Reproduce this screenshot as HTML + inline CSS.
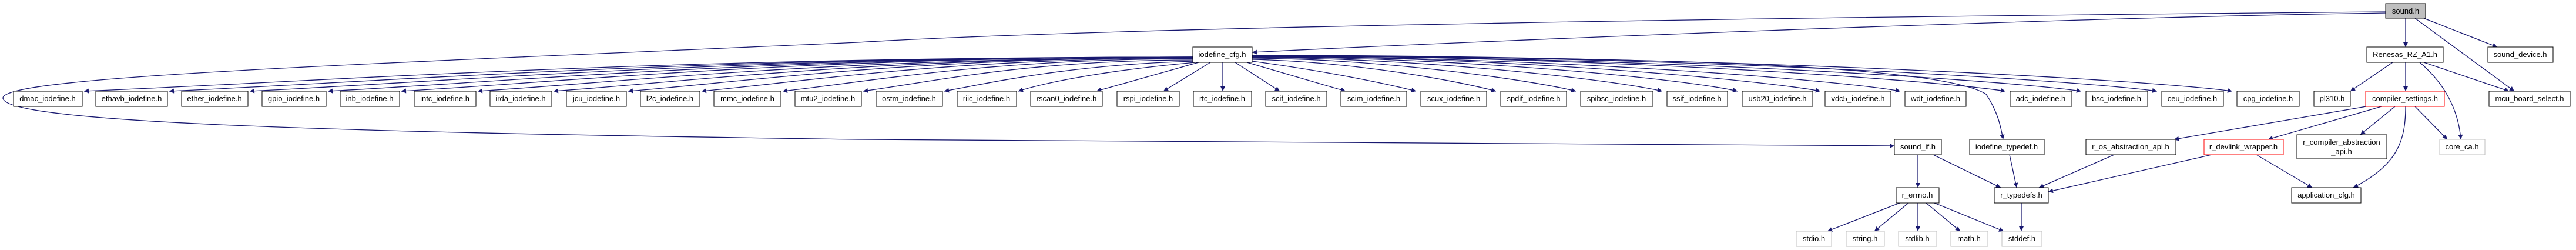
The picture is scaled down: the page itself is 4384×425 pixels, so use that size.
<!DOCTYPE html>
<html><head><meta charset="utf-8"><style>
html,body{margin:0;padding:0;background:#fff;width:4384px;height:425px;overflow:hidden}
svg{display:block}
text{font-family:"Liberation Sans",sans-serif;font-size:13px;fill:#000}
.e{fill:none;stroke:#191970;stroke-width:1.3;marker-end:url(#a)}
.n{fill:#fff;stroke:#000;stroke-width:1}
.g{fill:#fff;stroke:#bfbfbf;stroke-width:1}
.r{fill:#fff;stroke:#ff0000;stroke-width:1}
</style></head><body>
<svg width="4384" height="425" viewBox="0 0 4384 425" xmlns="http://www.w3.org/2000/svg">
<defs><marker id="a" viewBox="0 0 10 10" markerWidth="10" markerHeight="8" refX="10" refY="5" orient="auto" markerUnits="userSpaceOnUse"><path d="M0,0 L10,5 L0,10 z" fill="#191970"/></marker></defs>
<g>
<path class="e" d="M4060,20 C3500,25 2000,40 1460,72 C600,110 0,130 5,167 C10,210 600,225 1460,237 C2200,245 2900,248 3224,248"/>
<path class="e" d="M4060,22 C3500,30 2500,70 2131,89"/>
<path class="e" d="M2030,97 C1086,97 520,140 143,155"/>
<path class="e" d="M2030,97 C1159,97 637,140 288,155"/>
<path class="e" d="M2030,97 C1227,97 746,140 425,155"/>
<path class="e" d="M2030,97 C1294,97 852,140 558,155"/>
<path class="e" d="M2030,97 C1356,97 952,140 683,155"/>
<path class="e" d="M2030,98 C1421,98 1056,140 813,155"/>
<path class="e" d="M2030,98 C1486,98 1160,140 942,155"/>
<path class="e" d="M2030,98 C1549,98 1261,140 1069,155"/>
<path class="e" d="M2030,99 C1612,99 1361,140 1194,155"/>
<path class="e" d="M2030,100 C1681,100 1472,140 1332,155"/>
<path class="e" d="M2030,102 C1750,102 1581,140 1469,155"/>
<path class="e" d="M2032,104 C1820,110 1690,140 1607,155"/>
<path class="e" d="M2034,106 C1880,120 1780,140 1733,155"/>
<path class="e" d="M2040,106 L1866,155"/>
<path class="e" d="M2060,106 L1980,155"/>
<path class="e" d="M2081,106 L2081,155"/>
<path class="e" d="M2102,106 L2178,155"/>
<path class="e" d="M2122,106 L2290,155"/>
<path class="e" d="M2131,104 C2250,120 2350,140 2410,155"/>
<path class="e" d="M2131,101 C2300,105 2470,135 2546,155"/>
<path class="e" d="M2131,99 C2350,100 2600,135 2682,155"/>
<path class="e" d="M2131,98 C2420,98 2740,135 2829,155"/>
<path class="e" d="M2131,97 C2500,97 2870,135 2957,155"/>
<path class="e" d="M2131,96 C2560,96 2990,135 3098,155"/>
<path class="e" d="M2131,96 C2630,96 3120,135 3234,155"/>
<path class="e" d="M2131,95 C2720,95 3280,135 3413,155"/>
<path class="e" d="M2131,95 C2780,95 3400,135 3542,155"/>
<path class="e" d="M2131,94 C2850,94 3520,135 3671,155"/>
<path class="e" d="M2131,94 C2920,94 3650,135 3799,155"/>
<path class="e" d="M2131,96 C2800,96 3300,110 3380,160 C3400,190 3405,215 3409,237"/>
<path class="e" d="M4094,31 L4094,80"/>
<path class="e" d="M4125,31 L4250,80"/>
<path class="e" d="M4110,31 L4279,155"/>
<path class="e" d="M4072,106 L4000,155"/>
<path class="e" d="M4094,106 L4094,155"/>
<path class="e" d="M4118,106 C4170,150 4185,200 4188,237"/>
<path class="e" d="M4125,106 L4270,155"/>
<path class="e" d="M4027,181 L3700,237"/>
<path class="e" d="M4053,181 L3860,237"/>
<path class="e" d="M4076,181 L4017,229"/>
<path class="e" d="M4110,181 L4165,237"/>
<path class="e" d="M4094,181 C4094,240 4080,280 4005,319"/>
<path class="e" d="M3264,263 L3264,319"/>
<path class="e" d="M3290,263 L3405,319"/>
<path class="e" d="M3420,263 L3432,319"/>
<path class="e" d="M3598,263 L3470,319"/>
<path class="e" d="M3764,263 L3486,326"/>
<path class="e" d="M3840,263 L3935,319"/>
<path class="e" d="M3233,345 L3110,393"/>
<path class="e" d="M3248,345 L3190,393"/>
<path class="e" d="M3264,345 L3264,393"/>
<path class="e" d="M3278,345 L3336,393"/>
<path class="e" d="M3292,345 L3410,393"/>
<path class="e" d="M3440,345 L3440,393"/>
</g>
<g>
<rect x="4060" y="6" width="68" height="25" fill="#bfbfbf" stroke="#000"/><text x="4094" y="23" text-anchor="middle">sound.h</text>
<rect class="n" x="2030" y="80" width="101" height="26"/><text x="2080" y="97" text-anchor="middle">iodefine_cfg.h</text>
<rect class="n" x="4028" y="80" width="130" height="26"/><text x="4093" y="97" text-anchor="middle">Renesas_RZ_A1.h</text>
<rect class="n" x="4234" y="80" width="111" height="26"/><text x="4289" y="97" text-anchor="middle">sound_device.h</text>

<rect class="n" x="23" y="155" width="117" height="26"/><text x="81" y="172" text-anchor="middle">dmac_iodefine.h</text>
<rect class="n" x="163" y="155" width="122" height="26"/><text x="224" y="172" text-anchor="middle">ethavb_iodefine.h</text>
<rect class="n" x="309" y="155" width="113" height="26"/><text x="365" y="172" text-anchor="middle">ether_iodefine.h</text>
<rect class="n" x="446" y="155" width="109" height="26"/><text x="500" y="172" text-anchor="middle">gpio_iodefine.h</text>
<rect class="n" x="579" y="155" width="101" height="26"/><text x="629" y="172" text-anchor="middle">inb_iodefine.h</text>
<rect class="n" x="705" y="155" width="105" height="26"/><text x="757" y="172" text-anchor="middle">intc_iodefine.h</text>
<rect class="n" x="834" y="155" width="105" height="26"/><text x="886" y="172" text-anchor="middle">irda_iodefine.h</text>
<rect class="n" x="964" y="155" width="102" height="26"/><text x="1015" y="172" text-anchor="middle">jcu_iodefine.h</text>
<rect class="n" x="1090" y="155" width="101" height="26"/><text x="1140" y="172" text-anchor="middle">l2c_iodefine.h</text>
<rect class="n" x="1215" y="155" width="114" height="26"/><text x="1272" y="172" text-anchor="middle">mmc_iodefine.h</text>
<rect class="n" x="1353" y="155" width="113" height="26"/><text x="1409" y="172" text-anchor="middle">mtu2_iodefine.h</text>
<rect class="n" x="1491" y="155" width="113" height="26"/><text x="1547" y="172" text-anchor="middle">ostm_iodefine.h</text>
<rect class="n" x="1629" y="155" width="101" height="26"/><text x="1679" y="172" text-anchor="middle">riic_iodefine.h</text>
<rect class="n" x="1754" y="155" width="122" height="26"/><text x="1815" y="172" text-anchor="middle">rscan0_iodefine.h</text>
<rect class="n" x="1901" y="155" width="106" height="26"/><text x="1954" y="172" text-anchor="middle">rspi_iodefine.h</text>
<rect class="n" x="2031" y="155" width="99" height="26"/><text x="2080" y="172" text-anchor="middle">rtc_iodefine.h</text>
<rect class="n" x="2154" y="155" width="104" height="26"/><text x="2206" y="172" text-anchor="middle">scif_iodefine.h</text>
<rect class="n" x="2282" y="155" width="112" height="26"/><text x="2338" y="172" text-anchor="middle">scim_iodefine.h</text>
<rect class="n" x="2418" y="155" width="112" height="26"/><text x="2474" y="172" text-anchor="middle">scux_iodefine.h</text>
<rect class="n" x="2554" y="155" width="112" height="26"/><text x="2610" y="172" text-anchor="middle">spdif_iodefine.h</text>
<rect class="n" x="2690" y="155" width="123" height="26"/><text x="2751" y="172" text-anchor="middle">spibsc_iodefine.h</text>
<rect class="n" x="2837" y="155" width="103" height="26"/><text x="2888" y="172" text-anchor="middle">ssif_iodefine.h</text>
<rect class="n" x="2965" y="155" width="120" height="26"/><text x="3025" y="172" text-anchor="middle">usb20_iodefine.h</text>
<rect class="n" x="3106" y="155" width="112" height="26"/><text x="3162" y="172" text-anchor="middle">vdc5_iodefine.h</text>
<rect class="n" x="3242" y="155" width="104" height="26"/><text x="3294" y="172" text-anchor="middle">wdt_iodefine.h</text>
<rect class="n" x="3421" y="155" width="105" height="26"/><text x="3473" y="172" text-anchor="middle">adc_iodefine.h</text>
<rect class="n" x="3550" y="155" width="105" height="26"/><text x="3602" y="172" text-anchor="middle">bsc_iodefine.h</text>
<rect class="n" x="3679" y="155" width="105" height="26"/><text x="3731" y="172" text-anchor="middle">ceu_iodefine.h</text>
<rect class="n" x="3807" y="155" width="106" height="26"/><text x="3860" y="172" text-anchor="middle">cpg_iodefine.h</text>
<rect class="n" x="3938" y="155" width="62" height="26"/><text x="3969" y="172" text-anchor="middle">pl310.h</text>
<rect class="r" x="4026" y="155" width="134" height="26"/><text x="4093" y="172" text-anchor="middle">compiler_settings.h</text>
<rect class="n" x="4236" y="155" width="138" height="26"/><text x="4305" y="172" text-anchor="middle">mcu_board_select.h</text>

<rect class="n" x="3224" y="237" width="80" height="26"/><text x="3264" y="254" text-anchor="middle">sound_if.h</text>
<rect class="n" x="3352" y="237" width="127" height="26"/><text x="3415" y="254" text-anchor="middle">iodefine_typedef.h</text>
<rect class="n" x="3550" y="237" width="153" height="26"/><text x="3626" y="254" text-anchor="middle">r_os_abstraction_api.h</text>
<rect class="r" x="3751" y="237" width="135" height="26"/><text x="3818" y="254" text-anchor="middle">r_devlink_wrapper.h</text>
<rect class="n" x="3909" y="229" width="153" height="41"/><text x="3985" y="246" text-anchor="middle">r_compiler_abstraction</text><text x="3985" y="262" text-anchor="middle">_api.h</text>
<rect class="g" x="4152" y="237" width="77" height="26"/><text x="4190" y="254" text-anchor="middle">core_ca.h</text>

<rect class="n" x="3227" y="319" width="73" height="26"/><text x="3263" y="336" text-anchor="middle">r_errno.h</text>
<rect class="n" x="3394" y="319" width="92" height="26"/><text x="3440" y="336" text-anchor="middle">r_typedefs.h</text>
<rect class="n" x="3900" y="319" width="118" height="26"/><text x="3959" y="336" text-anchor="middle">application_cfg.h</text>

<rect class="g" x="3057" y="393" width="60" height="26"/><text x="3087" y="410" text-anchor="middle">stdio.h</text>
<rect class="g" x="3142" y="393" width="65" height="26"/><text x="3174" y="410" text-anchor="middle">string.h</text>
<rect class="g" x="3231" y="393" width="65" height="26"/><text x="3263" y="410" text-anchor="middle">stdlib.h</text>
<rect class="g" x="3320" y="393" width="63" height="26"/><text x="3351" y="410" text-anchor="middle">math.h</text>
<rect class="g" x="3407" y="393" width="68" height="26"/><text x="3441" y="410" text-anchor="middle">stddef.h</text>
</g>
</svg>
</body></html>
